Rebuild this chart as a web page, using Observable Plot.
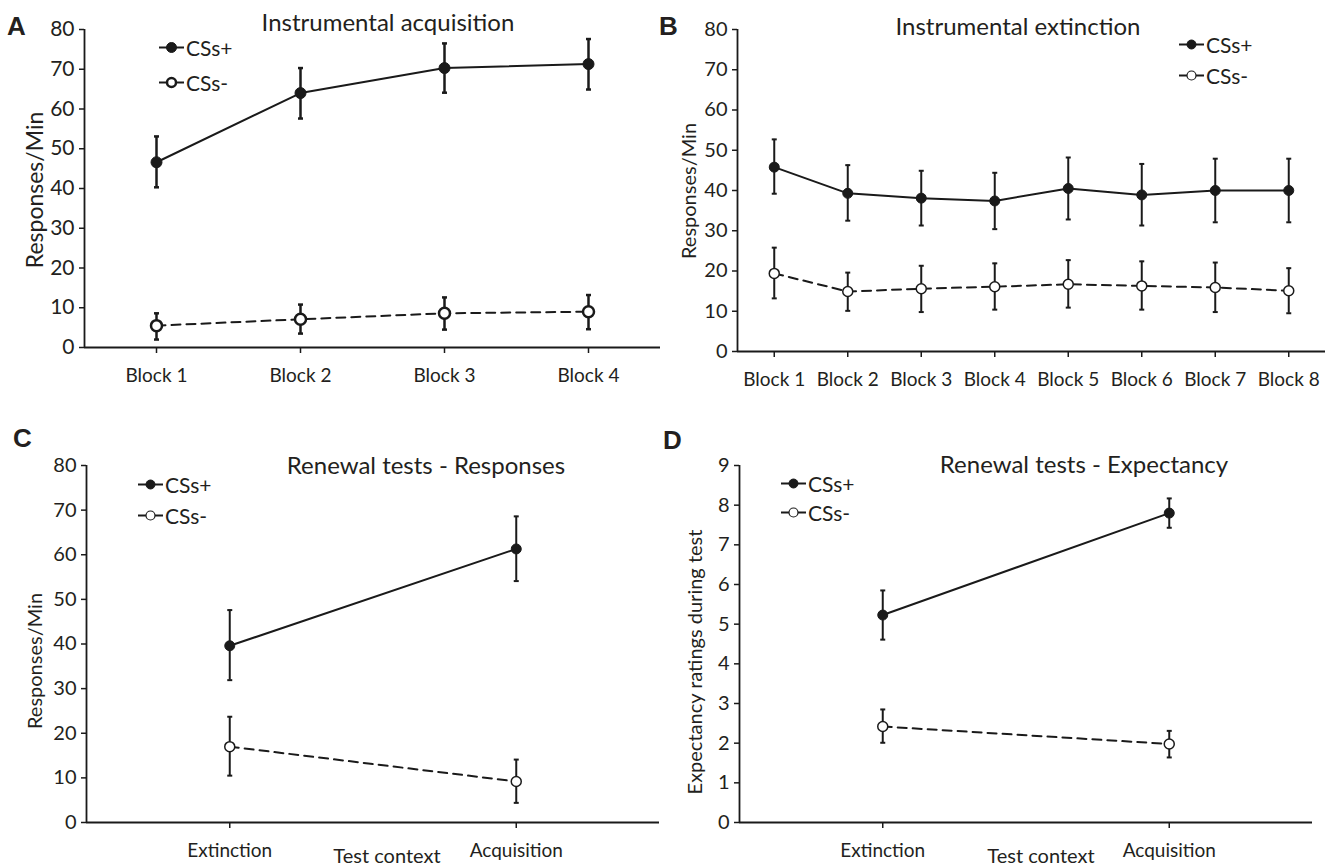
<!DOCTYPE html>
<html><head><meta charset="utf-8">
<script src="https://cdn.jsdelivr.net/npm/d3@7"></script>
<script src="https://cdn.jsdelivr.net/npm/@observablehq/plot@0.6"></script>
<style>
body{margin:0;background:#fff;}
#root{position:relative;width:1335px;height:867px;overflow:hidden;background:#fff;}
.panel{position:absolute;}
.t{position:absolute;white-space:nowrap;color:#231f20;font-family:Lato,sans-serif;line-height:1;transform:translate(-50%,-50%);}
.ttl{font-size:24px;}
.yl{font-size:20px;transform:translate(-50%,-50%) rotate(-90deg);}
.xl{font-size:20px;}
.let{position:absolute;font-family:"Liberation Sans",Arial,sans-serif;font-weight:bold;font-size:26px;color:#231f20;line-height:1;transform:translateY(-50%);}
.leg{position:absolute;display:flex;align-items:center;font-family:Lato,sans-serif;font-size:21px;color:#231f20;line-height:1;transform:translateY(-50%);}
</style></head><body><div id="root"></div>
<script>
// ---------- DATA ----------
const series = ["CSs+", "CSs-"];

// Panel A: Instrumental acquisition
const acqBlocks = ["Block 1", "Block 2", "Block 3", "Block 4"];
const acqPlus = [46.6, 64.0, 70.3, 71.3];
const acqPlusLo = [40.3, 57.6, 64.1, 64.9];
const acqPlusHi = [53.1, 70.3, 76.5, 77.6];
const acqMinus = [5.5, 7.1, 8.6, 9.0];
const acqMinusLo = [2.0, 3.5, 4.5, 4.6];
const acqMinusHi = [8.6, 10.8, 12.6, 13.2];

// Panel B: Instrumental extinction
const extBlocks = ["Block 1", "Block 2", "Block 3", "Block 4", "Block 5", "Block 6", "Block 7", "Block 8"];
const extPlus = [45.8, 39.3, 38.1, 37.4, 40.5, 38.9, 40.0, 40.0];
const extPlusLo = [39.2, 32.5, 31.3, 30.4, 32.8, 31.3, 32.1, 32.1];
const extPlusHi = [52.7, 46.3, 44.9, 44.4, 48.2, 46.6, 47.9, 47.9];
const extMinus = [19.4, 14.9, 15.6, 16.1, 16.7, 16.3, 15.9, 15.1];
const extMinusLo = [13.2, 10.1, 9.8, 10.4, 10.9, 10.4, 9.8, 9.5];
const extMinusHi = [25.8, 19.6, 21.3, 21.9, 22.7, 22.4, 22.1, 20.7];

// Panels C & D: Renewal tests
const contexts = ["Extinction", "Acquisition"];
const respPlus = [39.6, 61.3];
const respPlusLo = [31.9, 54.1];
const respPlusHi = [47.6, 68.6];
const respMinus = [17.0, 9.2];
const respMinusLo = [10.5, 4.4];
const respMinusHi = [23.7, 14.1];

const expPlus = [5.23, 7.80];
const expPlusLo = [4.61, 7.43];
const expPlusHi = [5.85, 8.17];
const expMinus = [2.42, 1.98];
const expMinusLo = [2.01, 1.64];
const expMinusHi = [2.85, 2.31];

const ticks80 = [0, 10, 20, 30, 40, 50, 60, 70, 80];
const ticks9 = [0, 1, 2, 3, 4, 5, 6, 7, 8, 9];

// ---------- DRAW ----------
const ink = "#1a1a1a";
const capSymbol = {draw(ctx, size) { const w = Math.sqrt(size / Math.PI); ctx.moveTo(-w, 0); ctx.lineTo(w, 0); }};

function rows(cats, name, v, lo, hi) {
  return cats.map((c, i) => ({i, cat: c, series: name, v: v[i], lo: lo[i], hi: hi[i]}));
}

function panel(o) {
  const n = o.cats.length;
  const plus = rows(o.cats, series[0], o.plus, o.plusLo, o.plusHi);
  const minus = rows(o.cats, series[1], o.minus, o.minusLo, o.minusHi);
  const all = plus.concat(minus);
  const chart = Plot.plot({
    width: o.width, height: o.height,
    marginLeft: o.ml, marginRight: o.mr, marginTop: o.mt, marginBottom: o.mb,
    style: {fontFamily: "Lato, sans-serif", fontSize: "19px", color: "#231f20", background: "transparent", overflow: "visible"},
    x: {type: "linear", domain: [-0.5, n - 0.5], axis: null},
    y: {domain: [0, o.yMax], axis: null},
    marks: [
      Plot.axisY({ticks: o.yTicks, tickSize: 5, tickPadding: 5, label: null, stroke: ink, strokeWidth: 1.5, fontSize: o.yfs}),
      Plot.axisX({ticks: d3.range(n), tickFormat: i => o.cats[i], tickSize: 6, tickPadding: 15, label: null, stroke: ink, strokeWidth: 1.5, fontSize: 19}),
      Plot.ruleY([0], {stroke: ink, strokeWidth: 1.8}),
      Plot.ruleX([-0.5], {stroke: ink, strokeWidth: 1.8}),
      Plot.line(plus, {x: "i", y: "v", stroke: ink, strokeWidth: o.lw}),
      Plot.line(minus, {x: "i", y: "v", stroke: ink, strokeWidth: o.lw, strokeDasharray: "9,6"}),
      Plot.ruleX(all, {x: "i", y1: "lo", y2: "hi", stroke: ink, strokeWidth: o.ew}),
      Plot.dot(all, {x: "i", y: "lo", symbol: capSymbol, r: 2.5, stroke: ink, strokeWidth: o.ew}),
      Plot.dot(all, {x: "i", y: "hi", symbol: capSymbol, r: 2.5, stroke: ink, strokeWidth: o.ew}),
      Plot.dot(plus, {x: "i", y: "v", r: o.r, fill: ink, stroke: ink, strokeWidth: 1}),
      Plot.dot(minus, {x: "i", y: "v", r: o.r, fill: "white", stroke: ink, strokeWidth: o.ow})
    ]
  });
  const div = document.createElement("div");
  div.className = "panel";
  div.style.left = o.left + "px";
  div.style.top = o.top + "px";
  div.appendChild(chart);
  root.appendChild(div);
}

function text(cls, str, x, y, fs) {
  const d = document.createElement("div");
  d.className = cls;
  d.textContent = str;
  d.style.left = x + "px";
  d.style.top = y + "px";
  if (fs) d.style.fontSize = fs + "px";
  root.appendChild(d);
}

function legendItem(label, filled, x, y, r, sw) {
  const d = document.createElement("div");
  d.className = "leg";
  d.style.left = x + "px";
  d.style.top = y + "px";
  const svg = d3.create("svg").attr("width", 25).attr("height", 14).style("margin-right", "2px");
  svg.append("line").attr("x1", 0).attr("x2", 25).attr("y1", 7).attr("y2", 7).attr("stroke", ink).attr("stroke-width", 2);
  svg.append("circle").attr("cx", 12.5).attr("cy", 7).attr("r", r)
    .attr("fill", filled ? ink : "white").attr("stroke", ink).attr("stroke-width", filled ? 1 : sw);
  d.appendChild(svg.node());
  const s = document.createElement("span");
  s.textContent = label;
  d.appendChild(s);
  root.appendChild(d);
}

const root = document.getElementById("root");

panel({cats: acqBlocks, plus: acqPlus, plusLo: acqPlusLo, plusHi: acqPlusHi, minus: acqMinus, minusLo: acqMinusLo, minusHi: acqMinusHi,
  yMax: 80, yTicks: ticks80, left: 0, top: 0, width: 665, height: 400, ml: 84, mr: 5, mt: 29, mb: 53, r: 5.5, lw: 2, ew: 2.5, ow: 2.5, yfs: 21});
panel({cats: extBlocks, plus: extPlus, plusLo: extPlusLo, plusHi: extPlusHi, minus: extMinus, minusLo: extMinusLo, minusHi: extMinusHi,
  yMax: 80, yTicks: ticks80, left: 660, top: 0, width: 675, height: 400, ml: 77, mr: 10, mt: 29, mb: 49, r: 5, lw: 2, ew: 2, ow: 1.5, yfs: 20});
panel({cats: contexts, plus: respPlus, plusLo: respPlusLo, plusHi: respPlusHi, minus: respMinus, minusLo: respMinusLo, minusHi: respMinusHi,
  yMax: 80, yTicks: ticks80, left: 0, top: 420, width: 665, height: 447, ml: 86, mr: 6, mt: 45, mb: 45, r: 5, lw: 2, ew: 2, ow: 1.5, yfs: 20});
panel({cats: contexts, plus: expPlus, plusLo: expPlusLo, plusHi: expPlusHi, minus: expMinus, minusLo: expMinusLo, minusHi: expMinusHi,
  yMax: 9, yTicks: ticks9, left: 660, top: 420, width: 675, height: 447, ml: 79, mr: 23, mt: 45, mb: 45, r: 5, lw: 2, ew: 2, ow: 1.5, yfs: 20});

// titles
text("t ttl", "Instrumental acquisition", 388, 22);
text("t ttl", "Instrumental extinction", 1018, 26);
text("t ttl", "Renewal tests - Responses", 426, 465);
text("t ttl", "Renewal tests - Expectancy", 1084, 464);
// y labels
text("t yl", "Responses/Min", 34, 190, 23);
text("t yl", "Responses/Min", 688, 191);
text("t yl", "Responses/Min", 34, 661);
text("t yl", "Expectancy ratings during test", 694, 662);
// x labels
text("t xl", "Test context", 387, 855);
text("t xl", "Test context", 1041, 855);
// panel letters
[["A", 7, 26], ["B", 659, 26], ["C", 13, 438], ["D", 663, 440]].forEach(([l, x, y]) => {
  const d = document.createElement("div"); d.className = "let"; d.textContent = l;
  d.style.left = x + "px"; d.style.top = y + "px"; root.appendChild(d);
});
// legends
legendItem("CSs+", true, 159, 47, 5, 1);
legendItem("CSs-", false, 159, 82, 4.5, 2.5);
legendItem("CSs+", true, 1179, 44, 4.5, 1);
legendItem("CSs-", false, 1179, 75, 4.5, 1.2);
legendItem("CSs+", true, 138, 484, 4.5, 1);
legendItem("CSs-", false, 138, 515, 4.5, 1.2);
legendItem("CSs+", true, 781, 483, 4.5, 1);
legendItem("CSs-", false, 781, 512, 4.5, 1.2);
</script></body></html>
